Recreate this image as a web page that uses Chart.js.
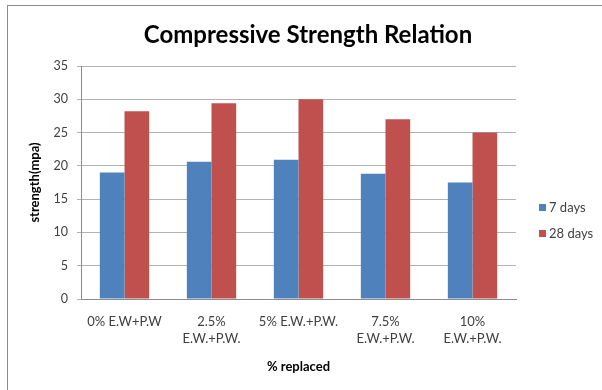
<!DOCTYPE html>
<html>
<head>
<meta charset="utf-8">
<script src="https://cdn.jsdelivr.net/npm/chart.js@4"></script>
<style>
  html, body { margin: 0; padding: 0; background: #fff; }
  #wrap { position: relative; width: 602px; height: 390px; overflow: hidden; }
  #frame { position: absolute; left: 7px; top: 5px; width: 700px; height: 500px;
           border-left: 1px solid #8c8c8c; border-top: 1px solid #8c8c8c; }
  canvas { position: absolute; left: 0; top: 0; }
</style>
</head>
<body>
<div id="wrap">
  <div id="frame"></div>
  <canvas id="chart" width="602" height="390"></canvas>
</div>
<script>
const chartTitle = 'Compressive Strength Relation';
const categories = [
  '0% E.W+P.W',
  ['2.5%', 'E.W.+P.W.'],
  '5% E.W.+P.W.',
  ['7.5%', 'E.W.+P.W.'],
  ['10%', 'E.W.+P.W.']
];
const days7 = [19, 20.6, 20.9, 18.8, 17.5];
const days28 = [28.2, 29.4, 30, 27, 25];
const yTicks = [0, 5, 10, 15, 20, 25, 30, 35];

const FONT = 'Lato, "Open Sans", sans-serif';
const ctx = document.getElementById('chart');

// title across the whole frame, legend on the right from the dataset labels/colours
const decorations = {
  id: 'decorations',
  afterDraw(chart) {
    const c = chart.ctx;
    c.save();
    c.textBaseline = 'middle';
    c.textAlign = 'center';
    c.fillStyle = '#000';
    c.font = 'bold 24px ' + FONT;
    c.fillText(chartTitle, 308, 35);

    c.textAlign = 'left';
    c.font = '13px ' + FONT;
    chart.data.datasets.forEach((ds, i) => {
      const y = 208 + i * 26;
      c.fillStyle = ds.backgroundColor;
      c.fillRect(539, y - 4, 7, 7);
      c.fillStyle = '#404040';
      c.fillText(ds.label, 549, y);
    });
    c.restore();
  }
};

let chart = new Chart(ctx, {
  type: 'bar',
  data: {
    labels: categories,
    datasets: [
      { label: '7 days', data: days7, backgroundColor: '#4F81BD' },
      { label: '28 days', data: days28, backgroundColor: '#C0504D' }
    ]
  },
  options: {
    responsive: false,
    animation: false,
    layout: { padding: { top: 66, right: 86, bottom: 10, left: 0 } },
    datasets: { bar: { categoryPercentage: 0.567, barPercentage: 1 } },
    plugins: {
      legend: { display: false },
      tooltip: { enabled: false },
      title: { display: false }
    },
    scales: {
      x: {
        afterFit(s) { s.height = 81; },
        grid: { display: false },
        border: { display: true, color: '#8c8c8c' },
        ticks: {
          color: '#404040',
          font: { family: FONT, size: 13, lineHeight: 1.3 },
          padding: 6,
          maxRotation: 0,
          autoSkip: false
        },
        title: {
          display: true,
          text: '% replaced',
          color: '#000',
          font: { family: FONT, size: 13, weight: 'bold' },
          padding: { top: 0, bottom: 5 }
        }
      },
      y: {
        min: 0,
        max: 35,
        afterFit(s) { s.width = 81; },
        afterBuildTicks(s) { s.ticks = yTicks.map(v => ({ value: v })); },
        grid: { color: '#b3b3b3', tickLength: 4 },
        border: { display: true, color: '#8c8c8c' },
        ticks: {
          color: '#404040',
          font: { family: FONT, size: 12.5 },
          padding: 9
        },
        title: {
          display: true,
          text: 'strength(mpa)',
          color: '#000',
          font: { family: FONT, size: 13, weight: 'bold' },
          padding: { top: 27, bottom: 0 }
        }
      }
    }
  },
  plugins: [decorations]
});
</script>
</body>
</html>
